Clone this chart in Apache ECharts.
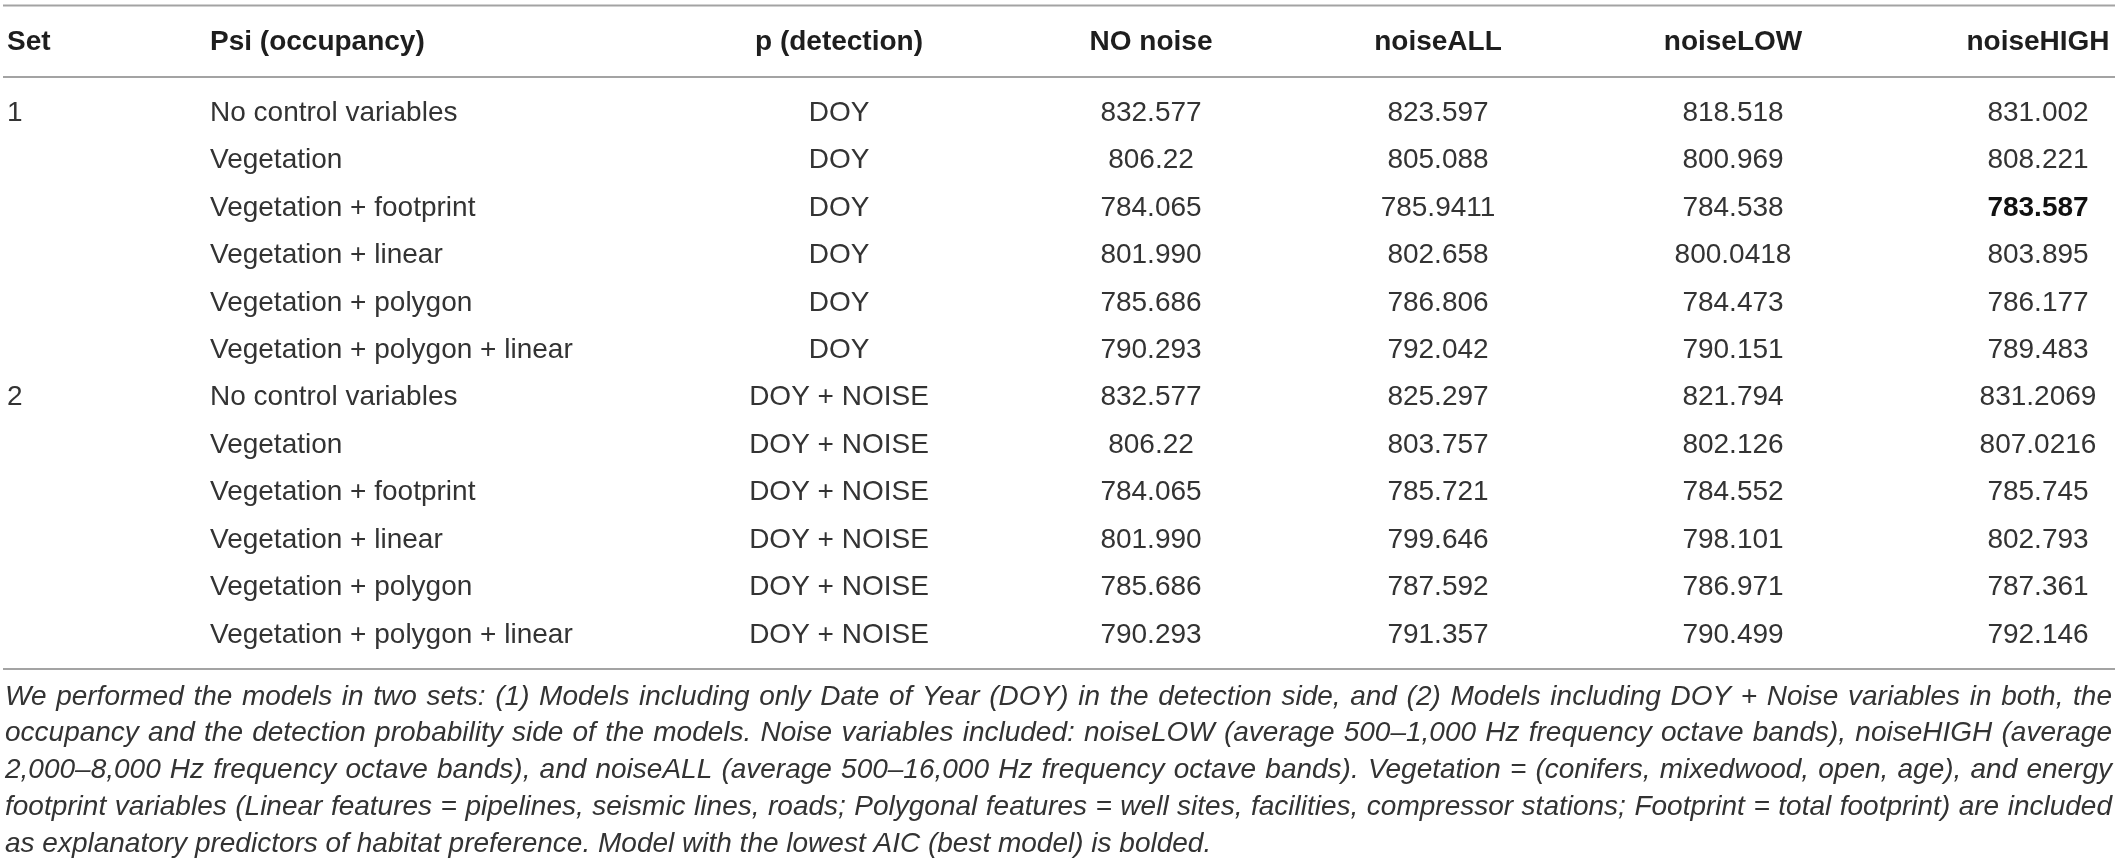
<!DOCTYPE html>
<html>
<head>
<meta charset="utf-8">
<script src="https://cdn.jsdelivr.net/npm/echarts@6/dist/echarts.min.js"></script>
<style>
html,body{margin:0;padding:0;background:#fff;}
#main{width:2119px;height:866px;}
</style>
</head>
<body>
<div id="main"></div>
<script>
// table content
var headers = ['Set', 'Psi (occupancy)', 'p (detection)', 'NO noise', 'noiseALL', 'noiseLOW', 'noiseHIGH'];
var setCol = ['1', '', '', '', '', '', '2', '', '', '', '', ''];
var psiCol = ['No control variables', 'Vegetation', 'Vegetation + footprint', 'Vegetation + linear', 'Vegetation + polygon', 'Vegetation + polygon + linear',
              'No control variables', 'Vegetation', 'Vegetation + footprint', 'Vegetation + linear', 'Vegetation + polygon', 'Vegetation + polygon + linear'];
var pCol = ['DOY', 'DOY', 'DOY', 'DOY', 'DOY', 'DOY',
            'DOY + NOISE', 'DOY + NOISE', 'DOY + NOISE', 'DOY + NOISE', 'DOY + NOISE', 'DOY + NOISE'];
var noNoise = ['832.577', '806.22', '784.065', '801.990', '785.686', '790.293', '832.577', '806.22', '784.065', '801.990', '785.686', '790.293'];
var noiseAll = ['823.597', '805.088', '785.9411', '802.658', '786.806', '792.042', '825.297', '803.757', '785.721', '799.646', '787.592', '791.357'];
var noiseLow = ['818.518', '800.969', '784.538', '800.0418', '784.473', '790.151', '821.794', '802.126', '784.552', '798.101', '786.971', '790.499'];
var noiseHigh = ['831.002', '808.221', '783.587', '803.895', '786.177', '789.483', '831.2069', '807.0216', '785.745', '802.793', '787.361', '792.146'];
var bestCell = [2, 6]; // row, column (lowest AIC, bolded)
var notes = [
  'We performed the models in two sets: (1) Models including only Date of Year (DOY) in the detection side, and (2) Models including DOY + Noise variables in both, the',
  'occupancy and the detection probability side of the models. Noise variables included: noiseLOW (average 500\u20131,000 Hz frequency octave bands), noiseHIGH (average',
  '2,000\u20138,000 Hz frequency octave bands), and noiseALL (average 500\u201316,000 Hz frequency octave bands). Vegetation = (conifers, mixedwood, open, age), and energy',
  'footprint variables (Linear features = pipelines, seismic lines, roads; Polygonal features = well sites, facilities, compressor stations; Footprint = total footprint) are included',
  'as explanatory predictors of habitat preference. Model with the lowest AIC (best model) is bolded.'
];

// layout
var W = 2119;
var colX = [7, 210, 839, 1151, 1438, 1733, 2038];
var colAlign = ['left', 'left', 'center', 'center', 'center', 'center', 'center'];
var FONT = '"Liberation Sans", Arial, sans-serif';
var textColor = '#333';
var ruleColor = '#a3a3a3';
var rowH = 47.45, rowTop = 113 - rowH / 2;

var columns = [setCol, psiCol, pCol, noNoise, noiseAll, noiseLow, noiseHigh];
var rowIdx = [];
for (var r = 0; r < psiCol.length; r++) rowIdx.push(String(r));

// one data item per cell
var cells = [];
for (var c = 0; c < columns.length; c++) {
  for (var r = 0; r < columns[c].length; r++) {
    if (columns[c][r] === '') continue;
    cells.push({
      value: [colX[c], r],
      text: columns[c][r],
      align: colAlign[c],
      bold: (r === bestCell[0] && c === bestCell[1])
    });
  }
}

var graphics = [];
// rules
[5.5, 77, 669].forEach(function (y) {
  graphics.push({
    type: 'line', silent: true,
    shape: { x1: 3, y1: y, x2: W - 4, y2: y },
    style: { stroke: ruleColor, lineWidth: 2 }
  });
});
// header
headers.forEach(function (h, i) {
  graphics.push({
    type: 'text', x: colX[i], y: 42,
    style: { text: h, fill: '#1e1e1e', font: 'bold 28px ' + FONT, align: colAlign[i], verticalAlign: 'middle' }
  });
});

// footnote, justified like the printed table
var ctx = document.createElement('canvas').getContext('2d');
var noteLeft = 5, noteRight = 2112, noteW = noteRight - noteLeft;
var noteSize = 28;
function noteFont(s) { return 'italic ' + s + 'px ' + FONT; }
while (noteSize > 18) {
  ctx.font = noteFont(noteSize);
  var widest = 0;
  notes.forEach(function (l) { widest = Math.max(widest, ctx.measureText(l).width); });
  if (widest <= noteW) break;
  noteSize -= 0.5;
}
ctx.font = noteFont(noteSize);
notes.forEach(function (line, li) {
  var y = 697 + li * 36.7;
  var words = line.split(' ');
  var last = li === notes.length - 1;
  var sum = 0;
  words.forEach(function (w) { sum += ctx.measureText(w).width; });
  var gap = last ? ctx.measureText(' ').width : (noteW - sum) / (words.length - 1);
  var x = noteLeft;
  words.forEach(function (w) {
    graphics.push({
      type: 'text', x: x, y: y, silent: true,
      style: { text: w, fill: textColor, font: noteFont(noteSize), align: 'left', verticalAlign: 'middle' }
    });
    x += ctx.measureText(w).width + gap;
  });
});

var myChart = echarts.init(document.getElementById('main'), null, { renderer: 'canvas' });
var option = {
  backgroundColor: '#fff',
  animation: false,
  grid: { left: 0, right: 0, top: rowTop, height: rowH * rowIdx.length },
  xAxis: { type: 'value', min: 0, max: W, show: false },
  yAxis: { type: 'category', data: rowIdx, inverse: true, show: false },
  series: [{
    type: 'custom',
    silent: true,
    data: cells,
    renderItem: function (params, api) {
      var cell = cells[params.dataIndex];
      var pt = api.coord([api.value(0), api.value(1)]);
      return {
        type: 'text',
        x: pt[0], y: pt[1],
        style: {
          text: cell.text,
          fill: cell.bold ? '#111' : textColor,
          font: (cell.bold ? 'bold ' : '') + '28px ' + FONT,
          align: cell.align,
          verticalAlign: 'middle'
        }
      };
    }
  }],
  graphic: graphics
};
myChart.setOption(option);
</script>
</body>
</html>
